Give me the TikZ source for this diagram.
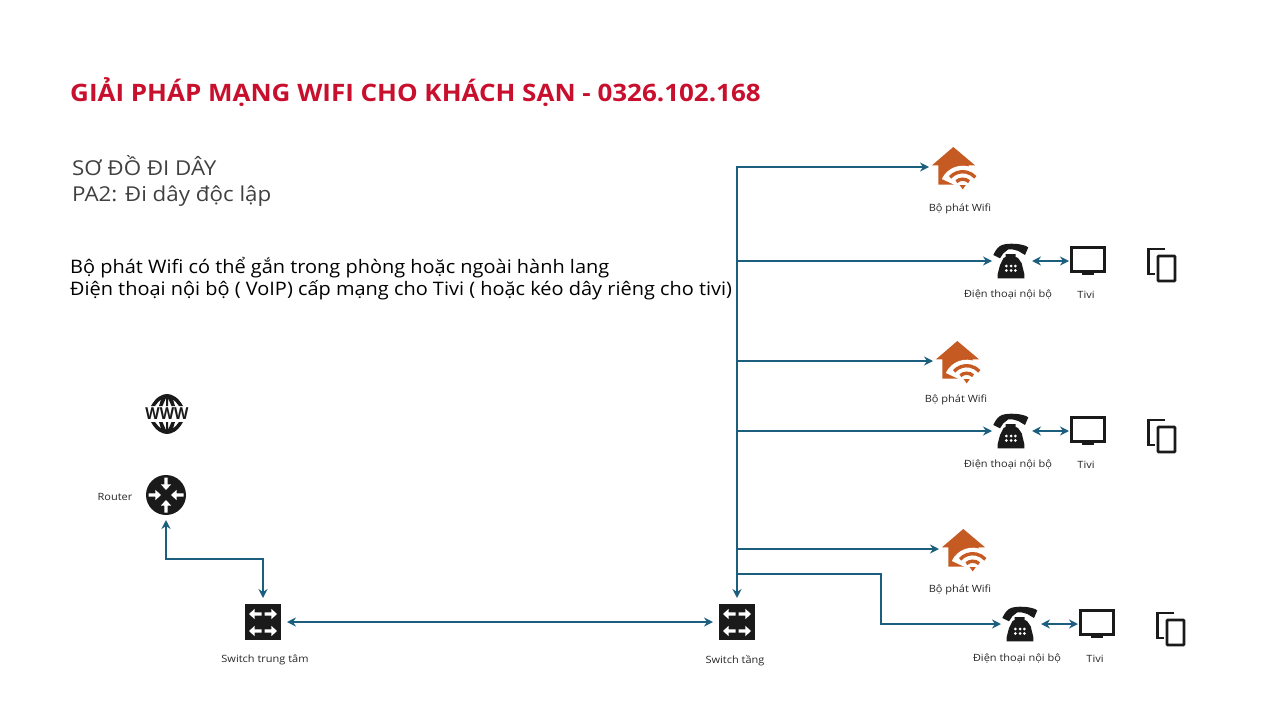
\documentclass[tikz,border=0pt]{standalone}
\usepackage{fontspec}
\setmainfont{Open Sans}
\newfontfamily\titlefont[FakeStretch=1.083]{Open Sans}
\newfontfamily\subfont[FakeStretch=1.09]{Open Sans}
\newfontfamily\bodyfont[FakeStretch=1.072]{Open Sans}
\newfontfamily\capfont[FakeStretch=1.1]{Open Sans}
\newfontfamily\wwwfont[FakeStretch=0.9]{Open Sans}
\usetikzlibrary{arrows.meta}
\definecolor{wirecol}{HTML}{1B5E7E}
\definecolor{housecol}{HTML}{C55A22}
\definecolor{iconcol}{HTML}{1A1A1A}
\definecolor{titlecol}{HTML}{C8102E}
\definecolor{greytext}{HTML}{404040}
\newcommand{\whitearr}[3]{\fill[white,shift={(#1,#2)},rotate=#3] (0,-1.6) -- (6.8,-1.6) -- (6.8,-5.2) -- (12.5,0) -- (6.8,5.2) -- (6.8,1.6) -- (0,1.6) -- cycle;}
\tikzset{
  x=1pt,y=-1pt,
  wire/.style={draw=wirecol,line width=2.2pt,-{Stealth[length=9pt,width=9pt]}},
  wirebi/.style={draw=wirecol,line width=2.2pt,{Stealth[length=9pt,width=9pt]}-{Stealth[length=9pt,width=9pt]}},
  slot/.style={inner sep=0pt,outer sep=0pt,minimum width=#1,minimum height=#1,rectangle},
  caplabel/.style={font=\capfont\fontsize{10}{12}\selectfont,text=black!85,inner sep=0pt,anchor=center},
  pics/housewifi/.style={code={
    \fill[housecol] (-0.7,-20) -- (21,-1.7) -- (14.5,-1.7) -- (14.5,17.7) -- (-15.7,17.7) -- (-15.7,-1.7) -- (-22,-1.7) -- cycle;
    \begin{scope}[shift={(8.7,21.7)}]
      \fill[white] (0,0) -- (205:23) arc[start angle=205,end angle=340,radius=23] -- cycle;
      \draw[housecol,line width=3.4pt] (222:17) arc[start angle=222,end angle=318,radius=17];
      \draw[housecol,line width=3.4pt] (228:9.5) arc[start angle=228,end angle=312,radius=9.5];
      \fill[housecol] (-3,-3.5) -- (3,-3.5) -- (0,0.7) -- cycle;
    \end{scope}
  }},
  pics/phone/.style={code={
    \fill[iconcol] (-18.7,-6) .. controls (-16,-12) and (-13,-15) .. (-10,-16) .. controls (-5,-18) and (10,-18) .. (16.3,-13.7)
       -- (13,-6) -- (6.3,-10) .. controls (2,-11.5) and (-1,-12) .. (-3.7,-11.7) -- (-8.7,-7.7) -- (-12,-2.7) -- cycle;
    \fill[iconcol] (-6.3,-7) -- (3.7,-7) -- (3.7,-4) -- (6,-3) -- (9.7,2.3) -- (12.3,13) -- (12.3,17.3) -- (-14.3,17.3) -- (-14.3,13) -- (-12,4) -- (-8.5,-3) -- (-6.3,-4) -- cycle;
    \foreach \yy in {5,9.5}{\foreach \xx in {-5.6,-1,3.4}{\fill[white] (\xx,\yy) circle[radius=1.5];}}
  }},
  pics/tvset/.style={code={
    \draw[iconcol,line width=3pt] (-16.5,-13.5) rectangle (16.5,10);
    \fill[iconcol] (-6,10) rectangle (6,14);
  }},
  pics/devices/.style={code={
    \draw[iconcol,line width=2.8pt] (4,-16) -- (-12.5,-16) -- (-12.5,9) -- (-6,9);
    \draw[iconcol,line width=2.8pt,rounded corners=0.8pt] (-3,-9) rectangle (14,16);
  }},
  pics/switchicon/.style={code={
    \fill[iconcol] (-18,-18) rectangle (18,18);
    \whitearr{-1.5}{-8}{180}
    \whitearr{1.5}{-8}{0}
    \whitearr{-1.5}{9}{180}
    \whitearr{1.5}{9}{0}
  }},
  pics/routericon/.style={code={
    \fill[iconcol] (0,0) circle[radius=20];
    \whitearr{17.5}{0}{180}
    \whitearr{-17.5}{0}{0}
    \whitearr{0}{17.5}{90}
    \whitearr{0}{-17.5}{-90}
  }},
  pics/wwwicon/.style={code={
    \fill[iconcol] (-16,-8) .. controls (-11,-17) and (-5,-20) .. (0,-20) .. controls (5,-20) and (11,-17) .. (16,-8) -- (12,-8) .. controls (10,-11) and (8,-13) .. (6,-14.5) -- (8,-8) -- (4.5,-8) -- (1,-16) -- (1,-8) -- (-1,-8) -- (-1,-16) -- (-4.5,-8) -- (-8,-8) -- (-6,-14.5) .. controls (-8,-13) and (-10,-11) .. (-12,-8) -- cycle;
    \fill[iconcol] (-16,8) .. controls (-11,17) and (-5,20) .. (0,20) .. controls (5,20) and (11,17) .. (16,8) -- (12,8) .. controls (10,11) and (8,13) .. (6,14.5) -- (8,8) -- (4.5,8) -- (1,16) -- (1,8) -- (-1,8) -- (-1,16) -- (-4.5,8) -- (-8,8) -- (-6,14.5) .. controls (-8,13) and (-10,11) .. (-12,8) -- cycle;
  }},
}
\begin{document}
\begin{tikzpicture}
\useasboundingbox (0,0) rectangle (1280,720);

% Texts
\node[anchor=base west,inner sep=0pt,text=titlecol,font={\titlefont\bfseries\fontsize{24}{28}\selectfont}] (title) at (70,101) {GIẢI PHÁP MẠNG WIFI CHO KHÁCH SẠN - 0326.102.168};
\node[anchor=base west,inner sep=0pt,text=greytext,font=\subfont\fontsize{20.5}{24}\selectfont] (sub1) at (72,175) {SƠ ĐỒ ĐI DÂY};
\node[anchor=base west,inner sep=0pt,text=greytext,font=\subfont\fontsize{20.5}{24}\selectfont] (sub2) at (72,201) {PA2: Đi dây độc lập};
\node[anchor=base west,inner sep=0pt,text=black,font=\bodyfont\fontsize{18.6}{22}\selectfont] (body1) at (70,273) {Bộ phát Wifi có thể gắn trong phòng hoặc ngoài hành lang};
\node[anchor=base west,inner sep=0pt,text=black,font=\bodyfont\fontsize{18.6}{22}\selectfont] (body2) at (70,295) {Điện thoại nội bộ ( VoIP) cấp mạng cho Tivi ( hoặc kéo dây riêng cho tivi)};

% Left side icons
\node[slot=40pt] (www) at (167,414) {};
\pic at (www.center) {wwwicon};
\node[inner sep=0pt,font={\wwwfont\bfseries\fontsize{16.5}{17}\selectfont},text=iconcol] (wwwt) at (167,414) {WWW};
\node[slot=50pt] (router) at (166,495) {};
\pic at (router.center) {routericon};
\node[caplabel] (routerl) at (115,497) {Router};
\node[slot=48pt] (swa) at (263,622) {};
\pic at (swa.center) {switchicon};
\node[caplabel] (swal) at (265,660) {Switch trung tâm};
\node[slot=48pt] (swb) at (737,622) {};
\pic at (swb.center) {switchicon};
\node[caplabel] (swbl) at (735,661) {Switch tầng};

% Wifi
\node[slot=50pt] (wifi1) at (954,167) {};
\pic at (wifi1.center) {housewifi};
\node[caplabel] (wifi1l) at (960,209) {Bộ phát Wifi};
\node[slot=50pt] (wifi2) at (958,361) {};
\pic at (wifi2.center) {housewifi};
\node[caplabel] (wifi2l) at (956,400) {Bộ phát Wifi};
\node[slot=50pt] (wifi3) at (964,549) {};
\pic at (wifi3.center) {housewifi};
\node[caplabel] (wifi3l) at (960,590) {Bộ phát Wifi};

% Phones, TVs, devices
\node[slot=40pt] (ph1) at (1012,261) {};
\pic at (ph1.center) {phone};
\node[caplabel] (ph1l) at (1008,295) {Điện thoại nội bộ};
\node[slot=38pt] (tv1) at (1088,261) {};
\pic at (tv1.center) {tvset};
\node[caplabel] (tv1l) at (1086,295) {Tivi};
\node[slot=36pt] (dv1) at (1161,265) {};
\pic at (dv1.center) {devices};

\node[slot=40pt] (ph2) at (1012,431) {};
\pic at (ph2.center) {phone};
\node[caplabel] (ph2l) at (1008,465) {Điện thoại nội bộ};
\node[slot=38pt] (tv2) at (1088,431) {};
\pic at (tv2.center) {tvset};
\node[caplabel] (tv2l) at (1086,465) {Tivi};
\node[slot=36pt] (dv2) at (1161,436) {};
\pic at (dv2.center) {devices};

\node[slot=40pt] (ph3) at (1021,624) {};
\pic at (ph3.center) {phone};
\node[caplabel] (ph3l) at (1017,659) {Điện thoại nội bộ};
\node[slot=38pt] (tv3) at (1097,624) {};
\pic at (tv3.center) {tvset};
\node[caplabel] (tv3l) at (1095,659) {Tivi};
\node[slot=36pt] (dv3) at (1170,629) {};
\pic at (dv3.center) {devices};

% Junctions
\coordinate (top) at (737,167);
\coordinate (j2) at (737,261);
\coordinate (j3) at (737,361);
\coordinate (j4) at (737,431);
\coordinate (j5) at (737,549);
\coordinate (j6) at (737,574);
\coordinate (j6b) at (881,574);
\coordinate (j6c) at (881,624);
\coordinate (ra) at (166,559);
\coordinate (rb) at (263,559);

% Connectors
\draw[wirebi] (swb.north) -- (top) -- (wifi1.west);
\draw[wire] (j2) -- (ph1.west);
\draw[wire] (j3) -- (wifi2.west);
\draw[wire] (j4) -- (ph2.west);
\draw[wire] (j5) -- (wifi3.west);
\draw[wire] (j6) -- (j6b) -- (j6c) -- (ph3.west);
\draw[wirebi] (ph1.east) -- (tv1.west);
\draw[wirebi] (ph2.east) -- (tv2.west);
\draw[wirebi] (ph3.east) -- (tv3.west);
\draw[wirebi] (swa.east) -- (swb.west);
\draw[wirebi] (router.south) -- (ra) -- (rb) -- (swa.north);
\end{tikzpicture}
\end{document}
